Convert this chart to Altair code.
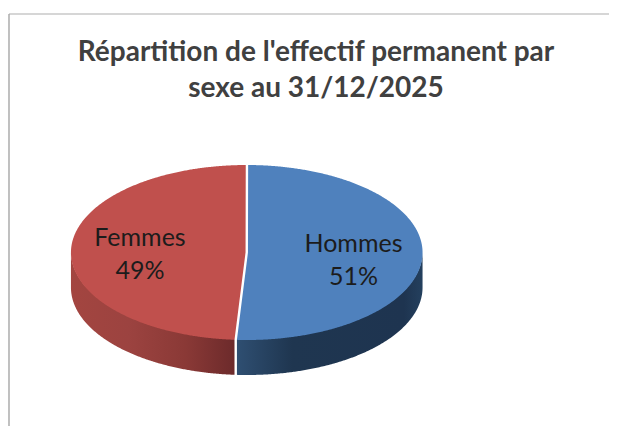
import numpy as np
import pandas as pd
import altair as alt

# ---- chart values ----
categories = ["Hommes", "Femmes"]
shares = [51, 49]
title_lines = ["Répartition de l'effectif permanent par", "sexe au 31/12/2025"]

# ---- layout (chart coordinates = page pixels minus the 8px margin) ----
W, H = 601, 418
CX, CY, RX, RY, DEPTH = 238.75, 244.5, 175.8, 87.5, 35
M = 8


def ex(t):
    return CX + RX * np.sin(t)


def ey(t):
    return CY - RY * np.cos(t)


split = 2 * np.pi * shares[0] / sum(shares)
sx, sy = float(ex(split)), float(ey(split))
left, right = CX - RX, CX + RX


def upper(x):
    return CY - RY * np.sqrt(np.clip(1 - ((x - CX) / RX) ** 2, 0, 1))


def lower(x):
    return CY + RY * np.sqrt(np.clip(1 - ((x - CX) / RX) ** 2, 0, 1))


def edge(x):
    return CY + (x - CX) * (sy - CY) / (sx - CX)


def xs(a, b, n=220):
    # denser near the ellipse ends so that the outline stays round
    u = np.linspace(0, np.pi, n)
    return a + (b - a) * (1 - np.cos(u)) / 2


xb = np.concatenate([xs(sx, CX, 30), xs(CX, right)[1:]])
blue_top = pd.DataFrame({
    "x": xb,
    "y": np.where(xb < CX, edge(xb), upper(xb)),
    "y2": lower(xb),
})
xr = np.concatenate([xs(left, sx), xs(sx, CX, 30)[1:]])
red_top = pd.DataFrame({
    "x": xr,
    "y": upper(xr),
    "y2": np.where(xr < sx, lower(xr), edge(xr)),
})
xbs = xs(sx + 0.6, right)
blue_side = pd.DataFrame({"x": xbs, "y": lower(xbs) - 1, "y2": lower(xbs) + DEPTH})
xrs = xs(left, sx - 0.6)
red_side = pd.DataFrame({"x": xrs, "y": lower(xrs) - 1, "y2": lower(xrs) + DEPTH})

X = alt.X("x:Q", axis=None, scale=alt.Scale(domain=[0, W], range=[0, W]))
Y = alt.Y("y:Q", axis=None, scale=alt.Scale(domain=[0, H], range=[0, H]))


def area(df, color):
    return alt.Chart(df).mark_area(color=color, interpolate="linear").encode(
        x=X, y=Y, y2="y2:Q"
    )


def grad(stops):
    return alt.Gradient(
        gradient="linear", x1=0, x2=1, y1=0, y2=0,
        stops=[alt.GradientStop(offset=o, color=c) for o, c in stops],
    )


red_side_fill = grad([(0, "#A34540"), (0.35, "#9C4340"), (0.7, "#8A3936"), (1, "#6C2A2B")])
blue_side_fill = grad([(0, "#2F4F72"), (0.3, "#1F3650"), (0.9, "#1E3450"), (1, "#24405E")])

gap = pd.DataFrame({
    "x": [CX + 0.2, CX, sx, sx],
    "y": [CY - RY - 1, CY, sy, sy + DEPTH + 1],
})
gap_line = alt.Chart(gap.assign(i=range(4))).mark_line(
    color="#FFFFFF", strokeWidth=2.4, interpolate="linear"
).encode(x=X, y=Y, order=alt.Order("i:Q"))

frame_top = alt.Chart(pd.DataFrame({"x": [9 - M], "x2": [W], "y": [14 - M]})).mark_rule(
    color="#C9C9C9", strokeWidth=1.6
).encode(x=X, x2="x2:Q", y=Y)
frame_left = alt.Chart(pd.DataFrame({"x": [9 - M], "y": [14 - M], "y2": [H]})).mark_rule(
    color="#A6A6A6", strokeWidth=1.4
).encode(x=X, y=Y, y2="y2:Q")

label_at = {"Hommes": (353.5 - M, 244 - M), "Femmes": (140 - M, 237.5 - M)}
labels = pd.DataFrame({
    "label": [f"{c}\n{s}%" for c, s in zip(categories, shares)],
    "x": [label_at[c][0] for c in categories],
    "y": [label_at[c][1] for c in categories],
})
text = alt.Chart(labels).mark_text(
    font="Lato", fontSize=25, color="#1C1C1C", lineBreak="\n", lineHeight=33,
    align="center", baseline="middle",
).encode(x=X, y=Y, text="label:N")

chart = alt.layer(
    frame_top, frame_left,
    area(red_side, red_side_fill), area(blue_side, blue_side_fill),
    area(red_top, "#C0504D"), area(blue_top, "#4F81BD"),
    gap_line, text,
).properties(
    width=W, height=H,
    padding=0,
    autosize=alt.AutoSizeParams(type="none"),
    title=alt.TitleParams(
        text=title_lines, font="Lato", fontSize=28, fontWeight=700,
        color="#404040", lineHeight=36, anchor="middle", dx=7.5, dy=95, offset=0,
    ),
    background="#FFFFFF",
).configure_view(stroke=None)

chart.save("out.html", embed_options={"renderer": "svg", "actions": False})
